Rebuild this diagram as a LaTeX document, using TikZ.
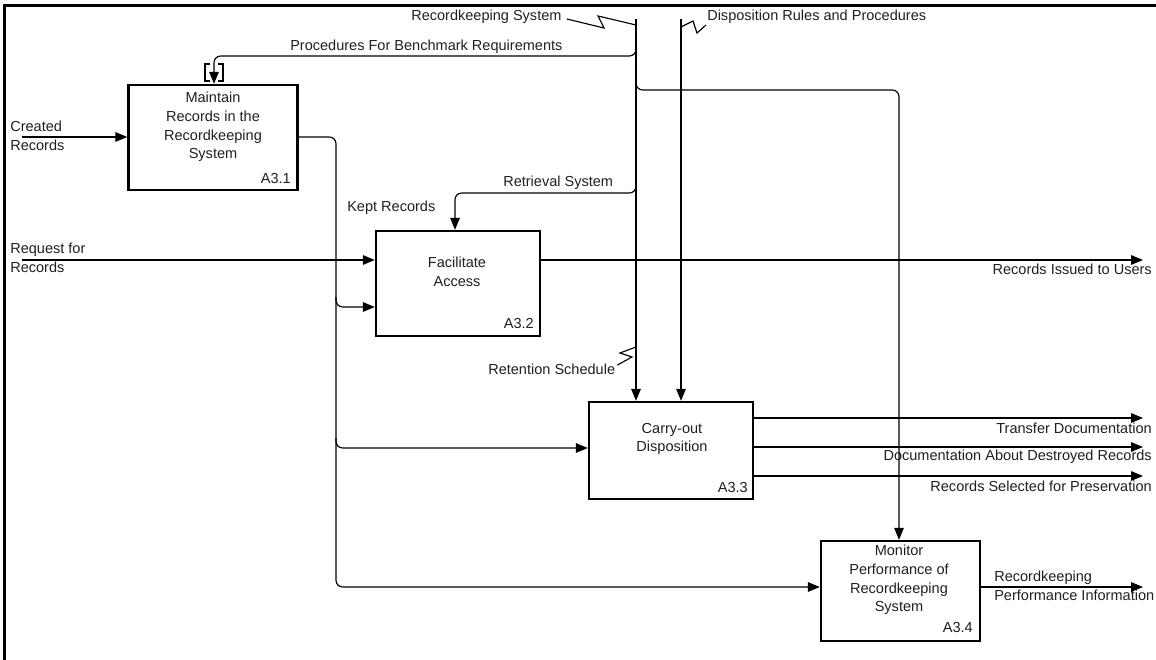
\documentclass[tikz,border=0pt]{standalone}
\usepackage{fontspec}
\setmainfont{Liberation Sans}
\usetikzlibrary{arrows.meta,fit}
\begin{document}
\begin{tikzpicture}[x=0.75pt,y=-0.75pt,
  conn/.style={line width=0.85pt, draw=black},
  arr/.style={conn, -{Triangle[length=9pt,width=7.2pt]}},
  procbox/.style={draw, line width=1.8pt, inner sep=0pt},
  lbl/.style={inner sep=0pt, font=\fontsize{10.9pt}{14pt}\selectfont, text=black!88},
  frameline/.style={line width=2.2pt}
]
\useasboundingbox (0,0) rectangle (1156,660);
% frame
\draw[frameline] (4.5,660) -- (4.5,5.5) -- (1156,5.5);

% boxes
\node[procbox, fit={(128.5,85) (297.5,190)}] (a31) {};
\node[procbox, fit={(376,231) (540,336)}] (a32) {};
\node[procbox, fit={(589,402) (753,499)}] (a33) {};
\node[procbox, fit={(821,541) (980,641)}] (a34) {};

% box texts
\node[lbl, align=center] (t31) at (213,127) {Maintain\\Records in the\\Recordkeeping\\System};
\node[lbl, anchor=east] (n31) at (291,178) {A3.1};
\node[lbl, align=center] (t32) at (457,272) {Facilitate\\Access};
\node[lbl, anchor=east] (n32) at (534,323) {A3.2};
\node[lbl, align=center] (t33) at (672,439) {Carry-out\\Disposition};
\node[lbl, anchor=east] (n33) at (748,487) {A3.3};
\node[lbl, align=center] (t34) at (899,580) {Monitor\\Performance of\\Recordkeeping\\System};
\node[lbl, anchor=east] (n34) at (973,627) {A3.4};

% labels
\node[lbl, anchor=west] (lrks) at (411,17) {Recordkeeping System};
\node[lbl, anchor=west] (ldrp) at (707,17) {Disposition Rules and Procedures};
\node[lbl, anchor=west] (lpbr) at (290,47) {Procedures For Benchmark Requirements};
\node[lbl, anchor=west, align=left] (lcr) at (10,136) {Created\\Records};
\node[lbl, anchor=west, align=left] (lrfr) at (10,258) {Request for\\Records};
\node[lbl, anchor=west] (lret) at (503,183) {Retrieval System};
\node[lbl, anchor=west] (lkept) at (347,208) {Kept Records};
\node[lbl, anchor=west] (lrs) at (488,369) {Retention Schedule};
\node[lbl, anchor=east] (liss) at (1152,269) {Records Issued to Users};
\node[lbl, anchor=east] (ltd) at (1152,428) {Transfer Documentation};
\node[lbl, anchor=east] (ldad) at (1152,457) {Documentation About Destroyed Records};
\node[lbl, anchor=east] (lrsp) at (1152,486) {Records Selected for Preservation};
\node[lbl, anchor=west, align=left] (lrpi) at (994,586) {Recordkeeping\\Performance Information};

% coordinates
\coordinate (crin) at (22,137);
\coordinate (rfin) at (22,260);
\coordinate (b1) at (636,19);
\coordinate (b2) at (681,19);
\coordinate (pin) at (214,56);
\coordinate (rin) at (455,193);
\coordinate (min) at (899,90);
\coordinate (kx) at (336,137);
\coordinate (ky2) at (0,307);
\coordinate (ky3) at (0,448);
\coordinate (ky4) at (0,587);
\coordinate (riu) at (1143,260);
\coordinate (o1) at (1143,418);
\coordinate (o2) at (1143,447);
\coordinate (o3) at (1143,476);
\coordinate (o4) at (1143,587);

% inputs
\draw[arr] (crin) -- (crin -| a31.west);
\draw[arr] (rfin) -- (rfin -| a32.west);

% kept records
\draw[arr, rounded corners=5] (crin -| a31.east) -- (kx) -- (kx |- ky4) -- (ky4 -| a34.west);
\draw[arr, rounded corners=5] ([yshift=7.5pt]kx |- ky2) -- (kx |- ky2) -- (ky2 -| a32.west);
\draw[arr, rounded corners=5] ([yshift=7.5pt]kx |- ky3) -- (kx |- ky3) -- (ky3 -| a33.west);

% control buses
\draw[arr] (b1) -- (b1 |- a33.north);
\draw[arr] (b2) -- (b2 |- a33.north);
\draw[arr, rounded corners=5] ([yshift=7.5pt]b1 |- pin) -- (b1 |- pin) -- (pin) -- (pin |- a31.north);
\draw[arr, rounded corners=5] ([yshift=7.5pt]b1 |- rin) -- (b1 |- rin) -- (rin) -- (rin |- a32.north);
\draw[arr, rounded corners=5] ([yshift=7.5pt]b1 |- min) -- (b1 |- min) -- (min) -- (min |- a34.north);

% tunnel brackets
\draw[conn] (210,64) -- (205,64) -- (205,81) -- (210,81);
\draw[conn] (218,64) -- (223,64) -- (223,81) -- (218,81);

% squiggles
\draw[conn] ([shift={(5,2)}]lrks.east) -- (604,28) -- (598,16) -- (b1 |- 0,25);
\draw[conn] (b2 |- 0,27) -- (693,21) -- (697,33) -- ([shift={(-1,8)}]ldrp.west);
\draw[conn] ([shift={(2,-4)}]lrs.east) -- (632,357) -- (620,353) -- (b1 |- 0,347);

% outputs
\draw[arr] (riu -| a32.east) -- (riu);
\draw[arr] (o1 -| a33.east) -- (o1);
\draw[arr] (o2 -| a33.east) -- (o2);
\draw[arr] (o3 -| a33.east) -- (o3);
\draw[arr] (o4 -| a34.east) -- (o4);
\end{tikzpicture}
\end{document}
